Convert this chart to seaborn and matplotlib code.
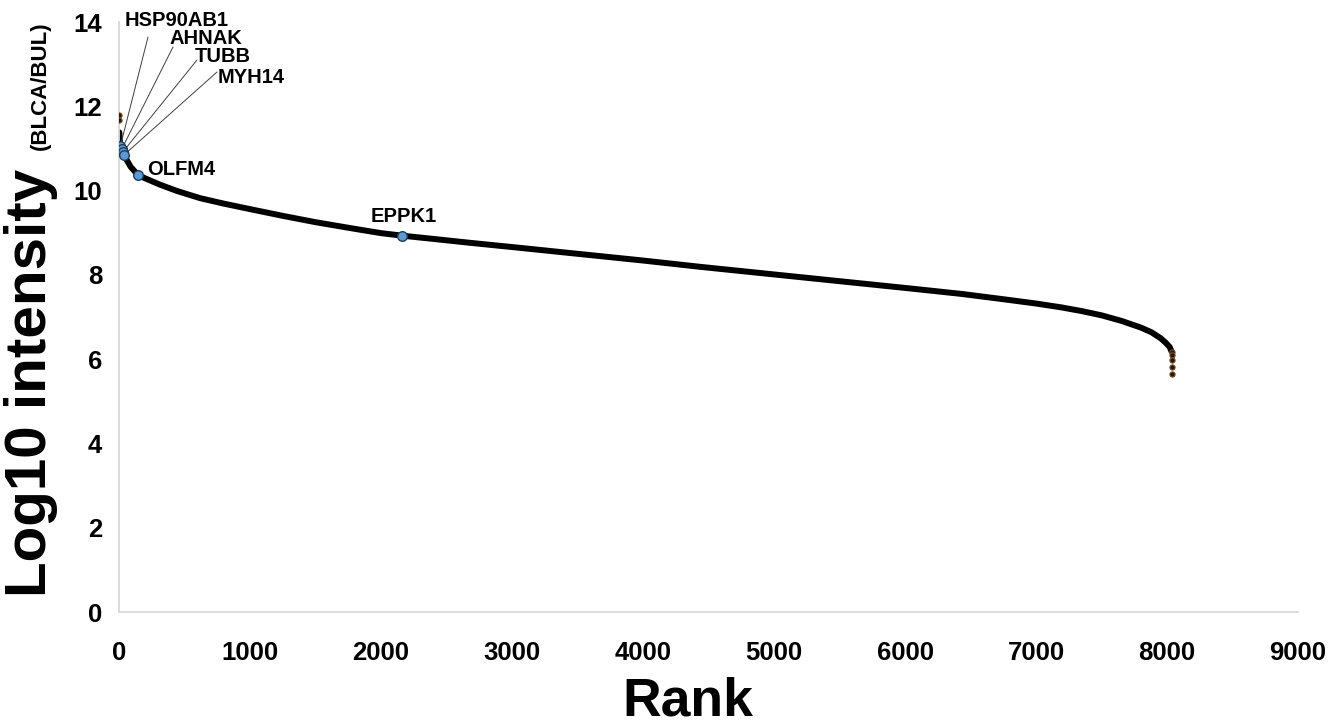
import numpy as np
import pandas as pd
import matplotlib
matplotlib.use("Agg")
import matplotlib.pyplot as plt
import seaborn as sns

# Rank-ordered log10 protein intensities (BLCA/BUL)
rank = [3, 6, 10, 20, 30, 40, 60, 90, 145, 200, 313, 443, 619, 800, 1000,
        1250, 1500, 1765, 2000, 2162, 2500, 2681, 3000, 3500, 4000, 4438,
        5000, 5500, 6000, 6425, 6730, 7000, 7190, 7350, 7500, 7650, 7800,
        7880, 7950, 7990, 8020, 8035]
log_intensity = [11.38, 11.20, 11.05, 10.98, 10.92, 10.85, 10.72, 10.56, 10.37,
                 10.29, 10.14, 9.99, 9.82, 9.69, 9.56, 9.40, 9.25, 9.11, 8.99,
                 8.93, 8.82, 8.76, 8.66, 8.50, 8.34, 8.19, 8.01, 7.85, 7.69,
                 7.55, 7.43, 7.32, 7.23, 7.14, 7.04, 6.91, 6.75, 6.64, 6.50,
                 6.39, 6.29, 6.18]

# Isolated extreme proteins at either end of the ranking
extreme_rank = [1, 2, 8036, 8037, 8038, 8039, 8040]
extreme_log = [11.80, 11.68, 6.18, 6.10, 5.98, 5.82, 5.64]

# Highlighted proteins
genes = ["HSP90AB1", "AHNAK", "TUBB", "MYH14", "OLFM4", "EPPK1"]
gene_rank = [10, 20, 30, 40, 145, 2162]
gene_log = [11.05, 10.98, 10.92, 10.85, 10.37, 8.93]

x_ticks = [0, 1000, 2000, 3000, 4000, 5000, 6000, 7000, 8000, 9000]
y_ticks = [0, 2, 4, 6, 8, 10, 12, 14]

sns.set_style("white")
plt.rcParams["font.family"] = ["Liberation Sans", "DejaVu Sans"]
plt.rcParams["font.weight"] = "bold"
plt.rcParams["text.color"] = "black"
plt.rcParams["xtick.color"] = "black"
plt.rcParams["ytick.color"] = "black"

W, H = 1329, 727
fig = plt.figure(figsize=(W / 100, H / 100), dpi=100)
ax = fig.add_axes([119 / W, 1 - 612 / H, (1298 - 119) / W, (612 - 22) / H])

curve = pd.DataFrame({"rank": rank, "log": log_intensity})
sns.lineplot(data=curve, x="rank", y="log", ax=ax, color="black", lw=4.3,
             solid_capstyle="round", solid_joinstyle="round", zorder=2)

ext = pd.DataFrame({"rank": extreme_rank, "log": extreme_log})
sns.scatterplot(data=ext, x="rank", y="log", ax=ax, s=14, color="#1a1a1a",
                edgecolor="#8a4a1c", linewidth=0.8, zorder=3)

hl = pd.DataFrame({"rank": gene_rank, "log": gene_log, "gene": genes})
sns.scatterplot(data=hl, x="rank", y="log", ax=ax, s=48, color="#5b9bd5",
                edgecolor="#1f3b5a", linewidth=1.0, zorder=5)

ax.set_xlim(0, 9000)
ax.set_ylim(0, 14)
ax.set_xticks(x_ticks)
ax.set_yticks(y_ticks)
ax.set_xticklabels([str(t) for t in x_ticks], fontsize=18.5, fontweight="bold")
ax.set_yticklabels([str(t) for t in y_ticks], fontsize=18.5, fontweight="bold")
ax.tick_params(axis="x", length=0, pad=21)
ax.tick_params(axis="y", length=0, pad=12)
ax.set_xlabel("")
ax.set_ylabel("")
for side in ["top", "right"]:
    ax.spines[side].set_visible(False)
for side in ["left", "bottom"]:
    ax.spines[side].set_color("#d9d9d9")
    ax.spines[side].set_linewidth(1.3)


# Gene labels: leader lines for the crowded top ranks, plain labels otherwise
def px_to_data(px, py):
    inv = ax.transData.inverted()
    return inv.transform((px, H - py))


fig.canvas.draw()
label_spec = {
    "HSP90AB1": dict(text_px=(125, 26), line_px=(148, 37)),
    "AHNAK": dict(text_px=(169, 44), line_px=(173, 47)),
    "TUBB": dict(text_px=(195, 62), line_px=(197, 60)),
    "MYH14": dict(text_px=(218, 83), line_px=(217, 72)),
}
for g, r, v in zip(genes, gene_rank, gene_log):
    if g in label_spec:
        spec = label_spec[g]
        tx, ty = px_to_data(*spec["text_px"])
        lx, ly = px_to_data(*spec["line_px"])
        ax.plot([lx, r], [ly, v], color="#404040", lw=0.7, zorder=4)
        ax.text(tx, ty, g, fontsize=14.5, fontweight="bold", ha="left",
                va="baseline", zorder=6)
    elif g == "OLFM4":
        tx, ty = px_to_data(147, 175)
        ax.text(tx, ty, g, fontsize=14.5, fontweight="bold", ha="left",
                va="baseline", zorder=6)
    else:
        tx, ty = px_to_data(404, 222)
        ax.text(tx, ty, g, fontsize=14.5, fontweight="bold", ha="center",
                va="baseline", zorder=6)

# Axis titles
fig.text(688 / W, 1 - 716 / H, "Rank", fontsize=38.5, fontweight="bold",
         ha="center", va="baseline")
fig.text(46 / W, 1 - 597 / H, "Log10 intensity", fontsize=42,
         fontweight="bold", rotation=90, rotation_mode="anchor",
         ha="left", va="baseline")
fig.text(46 / W, 1 - 150 / H, "(BLCA/BUL)", fontsize=16, fontweight="bold",
         rotation=90, rotation_mode="anchor", ha="left", va="baseline")

fig.savefig("out.png", dpi=100)
